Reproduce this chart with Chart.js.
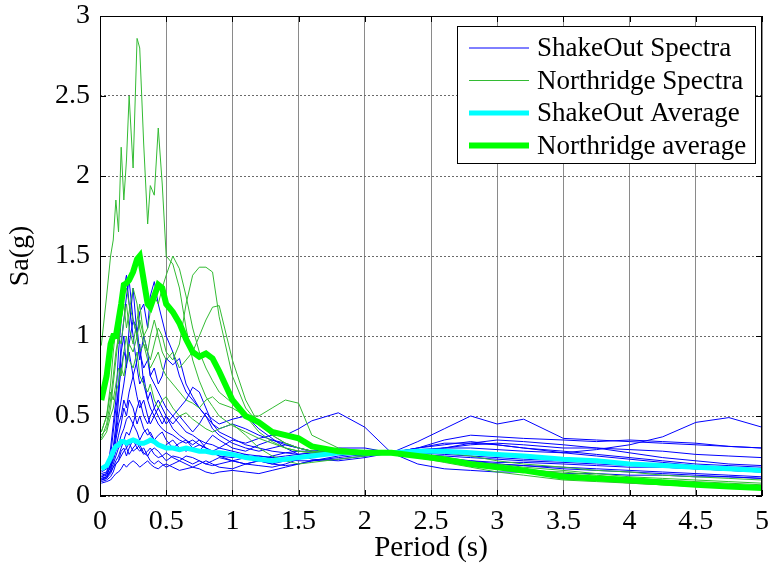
<!DOCTYPE html>
<html>
<head>
<meta charset="utf-8">
<script src="https://cdn.jsdelivr.net/npm/chart.js@4.4.1/dist/chart.umd.min.js"></script>
<style>
  html, body { margin: 0; padding: 0; background: #fff; }
  #wrap { width: 769px; height: 563px; }
</style>
</head>
<body>
<div id="wrap"><canvas id="sa-chart"></canvas></div>
<script>
// periods (s)
const periods = [0.01,0.05,0.08,0.1,0.12,0.14,0.16,0.18,0.2,0.22,
  0.25,0.28,0.3,0.33,0.36,0.38,0.41,0.44,0.47,0.5,
  0.55,0.6,0.65,0.7,0.75,0.8,0.85,0.9,1.0,1.1,
  1.2,1.3,1.4,1.5,1.6,1.8,2.0,2.2,2.4,2.6,
  2.8,3.0,3.2,3.5,3.75,4.0,4.25,4.5,4.75,5.0];

// ShakeOut spectra (g)
const shakeOutSpectra = [
  [0.12,0.14,0.3,0.45,0.6,0.9,1.1,1.3,1.38,1.2,
   1.0,0.8,0.7,0.75,0.6,0.55,0.5,0.45,0.42,0.4,
   0.38,0.35,0.33,0.35,0.32,0.3,0.28,0.25,0.22,0.2,
   0.22,0.2,0.22,0.24,0.25,0.27,0.28,0.27,0.3,0.33,
   0.33,0.32,0.3,0.28,0.26,0.24,0.22,0.2,0.19,0.18],
  [0.1,0.12,0.2,0.3,0.45,0.7,0.95,1.1,1.25,1.35,
   1.1,1.0,1.15,1.2,1.05,1.25,1.34,1.2,1.1,1.0,
   0.9,0.75,0.65,0.6,0.55,0.5,0.42,0.38,0.33,0.3,
   0.28,0.3,0.32,0.3,0.28,0.27,0.26,0.27,0.25,0.22,
   0.2,0.2,0.19,0.18,0.17,0.16,0.15,0.14,0.13,0.12],
  [0.15,0.17,0.25,0.4,0.55,0.65,0.8,0.9,0.85,0.95,
   1.1,1.05,0.9,0.8,0.85,0.75,0.8,0.7,0.75,0.86,
   0.82,0.86,0.7,0.62,0.55,0.5,0.45,0.4,0.36,0.32,
   0.3,0.28,0.27,0.26,0.27,0.28,0.28,0.27,0.28,0.3,
   0.32,0.33,0.32,0.3,0.3,0.29,0.28,0.26,0.25,0.24],
  [0.12,0.13,0.18,0.25,0.35,0.45,0.5,0.6,0.55,0.65,
   0.75,0.62,0.55,0.6,0.5,0.45,0.5,0.55,0.5,0.45,
   0.5,0.55,0.6,0.68,0.65,0.55,0.45,0.42,0.45,0.42,
   0.38,0.35,0.32,0.3,0.28,0.26,0.26,0.27,0.3,0.35,
   0.38,0.37,0.36,0.35,0.34,0.35,0.34,0.33,0.31,0.3],
  [0.1,0.11,0.14,0.18,0.22,0.25,0.3,0.35,0.4,0.38,
   0.45,0.4,0.35,0.4,0.42,0.38,0.35,0.33,0.3,0.32,
   0.35,0.3,0.28,0.3,0.32,0.3,0.28,0.3,0.35,0.33,
   0.36,0.38,0.38,0.42,0.47,0.52,0.43,0.27,0.2,0.17,
   0.16,0.15,0.15,0.14,0.14,0.13,0.13,0.12,0.12,0.11],
  [0.09,0.1,0.12,0.15,0.2,0.22,0.28,0.3,0.25,0.3,
   0.35,0.3,0.28,0.3,0.25,0.22,0.2,0.22,0.2,0.18,
   0.2,0.22,0.2,0.18,0.2,0.22,0.2,0.18,0.17,0.2,
   0.22,0.25,0.27,0.28,0.28,0.27,0.25,0.27,0.34,0.42,
   0.5,0.45,0.48,0.36,0.35,0.34,0.33,0.32,0.31,0.3],
  [0.11,0.12,0.16,0.2,0.25,0.3,0.32,0.35,0.3,0.33,
   0.28,0.3,0.32,0.27,0.25,0.28,0.3,0.28,0.25,0.22,
   0.25,0.24,0.22,0.2,0.22,0.2,0.19,0.2,0.22,0.24,
   0.25,0.24,0.23,0.22,0.22,0.23,0.25,0.27,0.29,0.3,
   0.3,0.29,0.28,0.27,0.29,0.32,0.37,0.46,0.49,0.43],
  [0.14,0.15,0.2,0.26,0.3,0.38,0.45,0.55,0.5,0.6,
   0.55,0.45,0.5,0.42,0.38,0.4,0.35,0.38,0.4,0.35,
   0.3,0.33,0.35,0.3,0.28,0.33,0.38,0.35,0.3,0.28,
   0.32,0.35,0.33,0.3,0.28,0.3,0.3,0.27,0.24,0.22,
   0.22,0.21,0.21,0.2,0.19,0.18,0.18,0.17,0.16,0.15],
  [0.08,0.09,0.1,0.12,0.14,0.15,0.17,0.2,0.18,0.2,
   0.22,0.2,0.18,0.2,0.22,0.2,0.18,0.17,0.19,0.2,
   0.18,0.16,0.17,0.18,0.17,0.15,0.14,0.15,0.16,0.15,
   0.14,0.16,0.18,0.2,0.22,0.24,0.26,0.27,0.26,0.24,
   0.22,0.2,0.19,0.17,0.16,0.15,0.14,0.13,0.12,0.11],
  [0.16,0.18,0.22,0.3,0.38,0.5,0.6,0.7,0.82,0.9,
   0.75,0.85,0.95,0.7,0.6,0.65,0.55,0.5,0.45,0.5,
   0.42,0.38,0.35,0.32,0.35,0.3,0.27,0.25,0.24,0.26,
   0.22,0.2,0.19,0.2,0.22,0.25,0.27,0.27,0.28,0.3,
   0.33,0.35,0.34,0.32,0.3,0.27,0.24,0.22,0.2,0.19],
  [0.13,0.14,0.18,0.22,0.28,0.32,0.38,0.42,0.48,0.5,
   0.45,0.55,0.6,0.5,0.45,0.5,0.55,0.6,0.55,0.5,
   0.45,0.5,0.45,0.4,0.45,0.52,0.48,0.45,0.48,0.5,
   0.42,0.36,0.3,0.26,0.23,0.22,0.24,0.27,0.3,0.32,
   0.34,0.32,0.3,0.27,0.25,0.23,0.21,0.19,0.18,0.17],
  [0.11,0.12,0.15,0.18,0.2,0.22,0.25,0.28,0.3,0.26,
   0.3,0.33,0.3,0.26,0.28,0.3,0.26,0.24,0.25,0.27,
   0.24,0.22,0.25,0.24,0.22,0.2,0.22,0.24,0.22,0.2,
   0.19,0.18,0.2,0.23,0.25,0.26,0.27,0.27,0.27,0.26,
   0.25,0.24,0.23,0.22,0.21,0.2,0.19,0.18,0.17,0.16],
  [0.1,0.11,0.16,0.25,0.4,0.6,0.9,1.0,0.8,1.05,
   1.3,1.0,0.85,1.0,0.9,0.75,0.7,0.65,0.6,0.55,
   0.5,0.45,0.4,0.38,0.35,0.33,0.32,0.3,0.28,0.26,
   0.25,0.24,0.25,0.26,0.27,0.28,0.28,0.27,0.26,0.25,
   0.24,0.23,0.22,0.21,0.2,0.19,0.18,0.17,0.16,0.15]
];

// Northridge spectra (g)
const northridgeSpectra = [
  [0.94,1.25,1.5,1.6,1.85,1.65,2.18,1.85,2.1,2.5,
   2.05,2.86,2.8,2.2,1.7,1.94,1.88,2.3,1.95,1.5,
   1.45,1.3,1.05,0.85,0.72,0.62,0.56,0.5,0.44,0.4,
   0.36,0.33,0.3,0.28,0.27,0.26,0.26,0.27,0.24,0.21,
   0.18,0.15,0.13,0.1,0.09,0.08,0.07,0.06,0.05,0.04],
  [0.4,0.5,0.7,0.9,1.05,0.95,1.1,1.2,1.05,1.15,
   1.3,1.2,1.05,0.95,0.9,0.85,0.95,1.05,1.0,0.9,
   0.85,0.95,1.2,1.38,1.43,1.43,1.4,1.12,0.75,0.55,
   0.45,0.38,0.33,0.3,0.28,0.26,0.26,0.27,0.25,0.22,
   0.2,0.17,0.15,0.12,0.1,0.08,0.07,0.06,0.05,0.04],
  [0.36,0.45,0.6,0.75,0.9,1.0,0.95,1.1,1.2,1.05,
   0.95,1.1,1.2,1.0,0.9,1.0,1.1,1.0,0.9,0.85,
   0.9,0.8,0.85,0.9,1.0,1.1,1.18,1.19,0.85,0.6,
   0.45,0.38,0.33,0.3,0.28,0.27,0.27,0.27,0.26,0.24,
   0.21,0.19,0.17,0.14,0.12,0.1,0.09,0.08,0.07,0.06],
  [0.38,0.42,0.55,0.7,0.85,1.0,1.1,1.25,1.3,1.2,
   1.1,1.0,0.9,0.95,0.85,0.8,0.85,0.9,0.8,0.75,
   0.7,0.65,0.6,0.58,0.55,0.6,0.62,0.58,0.55,0.5,
   0.5,0.55,0.6,0.58,0.38,0.3,0.28,0.27,0.25,0.22,
   0.2,0.18,0.16,0.15,0.13,0.11,0.1,0.09,0.08,0.07],
  [0.4,0.5,0.65,0.6,0.7,0.8,0.75,0.9,1.0,0.85,
   0.8,0.9,0.75,0.7,0.65,0.7,0.6,0.55,0.6,0.62,
   0.55,0.5,0.52,0.48,0.45,0.42,0.4,0.42,0.45,0.38,
   0.3,0.25,0.22,0.2,0.21,0.23,0.25,0.27,0.28,0.27,
   0.25,0.22,0.2,0.18,0.16,0.15,0.13,0.12,0.11,0.1],
  [0.35,0.4,0.5,0.55,0.65,0.7,0.8,0.75,0.85,0.95,
   0.9,1.0,1.1,1.0,1.05,1.15,1.25,1.2,1.3,1.38,
   1.5,1.42,1.25,1.05,0.9,0.8,0.72,0.65,0.58,0.5,
   0.4,0.34,0.3,0.28,0.27,0.27,0.27,0.27,0.25,0.23,
   0.21,0.2,0.18,0.16,0.14,0.12,0.11,0.1,0.09,0.08]
];

// averages (g)
const shakeOutAverage = [0.17,0.19,0.24,0.28,0.31,0.32,0.34,0.34,0.33,0.34,
  0.35,0.34,0.33,0.33,0.34,0.35,0.34,0.32,0.31,0.3,
  0.3,0.29,0.3,0.29,0.28,0.28,0.27,0.27,0.26,0.24,
  0.23,0.22,0.23,0.24,0.25,0.27,0.27,0.27,0.28,0.28,
  0.27,0.26,0.25,0.23,0.22,0.2,0.19,0.18,0.17,0.16];
const northridgeAverage = [0.6,0.75,0.95,1.0,1.0,1.1,1.2,1.32,1.33,1.35,
  1.4,1.48,1.5,1.35,1.2,1.18,1.25,1.32,1.3,1.2,
  1.15,1.08,0.98,0.9,0.87,0.89,0.86,0.78,0.6,0.5,
  0.46,0.4,0.38,0.36,0.31,0.28,0.27,0.27,0.25,0.23,
  0.2,0.18,0.16,0.12,0.11,0.1,0.085,0.07,0.06,0.05];

const xTicks = [0, 0.5, 1, 1.5, 2, 2.5, 3, 3.5, 4, 4.5, 5];
const yTicks = [0, 0.5, 1, 1.5, 2, 2.5, 3];

const legendItems = [
  { text: 'ShakeOut Spectra', color: '#0000ff', width: 1 },
  { text: 'Northridge Spectra', color: '#33bb33', width: 1 },
  { text: 'ShakeOut Average', color: '#00ffff', width: 5 },
  { text: 'Northridge average', color: '#00ff00', width: 6 }
];

const FONT = '"Liberation Serif", "Times New Roman", serif';

function toPoints(vals) {
  return periods.map((p, i) => ({ x: p, y: vals[i] }));
}

const datasets = [];
shakeOutSpectra.forEach((s) => {
  datasets.push({ data: toPoints(s), borderColor: '#0000ff', borderWidth: 1, order: 3 });
});
northridgeSpectra.forEach((s) => {
  datasets.push({ data: toPoints(s), borderColor: '#33bb33', borderWidth: 1, order: 2 });
});
datasets.push({ data: toPoints(shakeOutAverage), borderColor: '#00ffff', borderWidth: 5, order: 1 });
datasets.push({ data: toPoints(northridgeAverage), borderColor: '#00ff00', borderWidth: 6, order: 0 });

// frame, inward ticks and legend box like matlab
const framePlugin = {
  id: 'frame',
  afterDatasetsDraw(chart) {
    const { ctx, chartArea: a, scales } = chart;
    ctx.save();
    ctx.strokeStyle = '#000';
    ctx.lineWidth = 1;
    ctx.strokeRect(a.left + 0.5, a.top + 0.5, a.right - a.left - 1, a.bottom - a.top - 1);
    ctx.beginPath();
    xTicks.forEach((v) => {
      const x = Math.round(scales.x.getPixelForValue(v)) + 0.5;
      ctx.moveTo(x, a.bottom); ctx.lineTo(x, a.bottom - 6);
      ctx.moveTo(x, a.top); ctx.lineTo(x, a.top + 6);
    });
    yTicks.forEach((v) => {
      const y = Math.round(scales.y.getPixelForValue(v)) + 0.5;
      ctx.moveTo(a.left, y); ctx.lineTo(a.left + 6, y);
      ctx.moveTo(a.right, y); ctx.lineTo(a.right - 6, y);
    });
    ctx.stroke();

    // legend
    const bx = 457, by = 26, bw = 298, bh = 137;
    ctx.fillStyle = '#fff';
    ctx.fillRect(bx, by, bw, bh);
    ctx.strokeStyle = '#000';
    ctx.strokeRect(bx + 0.5, by + 0.5, bw, bh);
    ctx.font = '27px ' + FONT;
    ctx.textBaseline = 'middle';
    legendItems.forEach((it, i) => {
      const y = by + 22 + i * 32.5;
      ctx.beginPath();
      ctx.strokeStyle = it.color;
      ctx.lineWidth = it.width;
      ctx.moveTo(bx + 12, y); ctx.lineTo(bx + 72, y);
      ctx.stroke();
      ctx.fillStyle = '#000';
      ctx.fillText(it.text, bx + 80, y + 1);
    });
    ctx.restore();
  }
};

const ctx = document.getElementById('sa-chart').getContext('2d');
new Chart(ctx, {
  type: 'line',
  data: { datasets: datasets },
  options: {
    responsive: true,
    maintainAspectRatio: false,
    animation: false,
    events: [],
    elements: { point: { radius: 0 }, line: { tension: 0 } },
    layout: { padding: { left: 0, right: 7, top: 16, bottom: 0 } },
    plugins: { legend: { display: false }, tooltip: { enabled: false } },
    scales: {
      x: {
        type: 'linear',
        min: 0, max: 5,
        afterFit: (s) => { s.height = 67; s.paddingLeft = 0; s.paddingRight = 0; },
        afterBuildTicks: (s) => { s.ticks = xTicks.map((v) => ({ value: v })); },
        border: { display: false },
        grid: { color: '#8a8a8a', lineWidth: 1, drawTicks: false },
        ticks: { color: '#000', padding: 9, maxRotation: 0, callback: (v) => String(v), font: { family: FONT, size: 28 } },
        title: { display: true, text: 'Period (s)', color: '#000', padding: { top: 0, bottom: 0 }, font: { family: FONT, size: 29, lineHeight: 1.0 } }
      },
      y: {
        type: 'linear',
        min: 0, max: 3,
        afterFit: (s) => { s.width = 100; s.paddingTop = 0; s.paddingBottom = 0; },
        afterBuildTicks: (s) => { s.ticks = yTicks.map((v) => ({ value: v })); },
        border: { display: false, dash: [2, 2] },
        grid: { color: '#6a6a6a', lineWidth: 1, drawTicks: false },
        ticks: { color: '#000', padding: 10, callback: (v) => String(v), font: { family: FONT, size: 28 } },
        title: { display: true, text: 'Sa(g)', color: '#000', padding: { top: 4, bottom: 4 }, font: { family: FONT, size: 28 } }
      }
    }
  },
  plugins: [framePlugin]
});
</script>
</body>
</html>
